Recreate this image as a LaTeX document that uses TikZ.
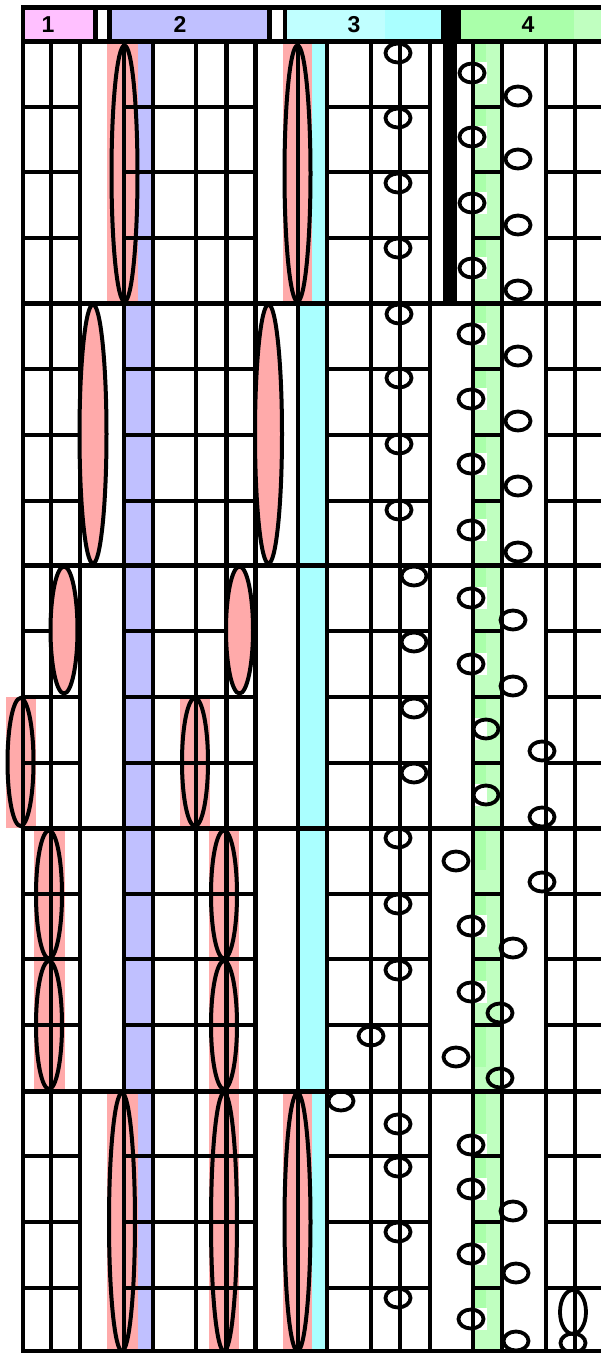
\documentclass[tikz,border=0pt]{standalone}
\usepackage{fontspec}
\setsansfont{Liberation Sans}
\usepackage{tikz}
\definecolor{pinkhead}{HTML}{FFC0FF}
\definecolor{bluestrip}{HTML}{C0C0FF}
\definecolor{cyanlight}{HTML}{C0FFFF}
\definecolor{cyanstrip}{HTML}{AAFFFF}
\definecolor{greenlight}{HTML}{C0FFC0}
\definecolor{greenstrip}{HTML}{AAFFAA}
\definecolor{rose}{HTML}{FFAAAA}

\begin{document}
\begin{tikzpicture}[
        x=1pt, y=-1pt,
        bar/.style={line width=4.5pt},
        sub/.style={line width=3.5pt},
        sep/.style={line width=5pt},
        lens/.style={line width=4pt},
        blob/.style={line width=4pt, fill=rose},
        ring/.style={line width=3.8pt},
        head/.style={font=\sffamily\bfseries\fontsize{23}{23}\selectfont, inner sep=0pt}
    ]
        \useasboundingbox (0,0) rectangle (601,1353);

        % Cabecalho
        \fill (21,5) rectangle (601,44);
        \fill[pinkhead] (25,10) rectangle (93,39);
        \fill[white] (98,10) rectangle (107,39);
        \fill[bluestrip] (112,10) rectangle (267,39);
        \fill[white] (272,10) rectangle (283,39);
        \fill[cyanlight] (287,10) rectangle (385,39);
        \fill[cyanstrip] (385,10) rectangle (441,39);
        \fill[greenstrip] (461,10) rectangle (574,39);
        \fill[greenlight] (574,10) rectangle (601,39);
        \node[head] (h1) at (48,24.5) {1};
        \node[head] (h2) at (180,24.5) {2};
        \node[head] (h3) at (354,24.5) {3};
        \node[head] (h4) at (528,24.5) {4};

        % Faixas coloridas
        \fill[bluestrip] (126,44) rectangle (151,1353);
        \fill[cyanstrip] (300,44) rectangle (325,1353);
        \fill[greenlight] (475,44) rectangle (500,1353);
        \foreach \ya/\yb in {44/63, 107/127, 172/193, 238/258, 303/324, 369/389, 435/454, 501/520,
                565/588, 631/654, 697/719, 763/785, 828/870, 894/916, 959/982, 1025/1067,
                1091/1135, 1156/1179, 1222/1244, 1288/1309}
            \fill[greenstrip] (475,\ya) rectangle (486,\yb);
        \foreach \y in {73, 137, 203, 268, 334, 399, 464, 530, 598, 664, 729, 795, 926, 992, 1145, 1189, 1254, 1319}
            \fill[white] (475,\y-11) rectangle (487,\y+11);

        % Fundos rosa
        \foreach \xa/\xb/\ya/\yb in {107/138/44/303, 283/312/44/303, 6/36/697/828, 180/210/697/828,
                34/65/828/1091, 209/239/828/1091, 107/138/1091/1353, 209/239/1091/1353, 283/312/1091/1353}
            \fill[rose] (\xa,\ya) rectangle (\xb,\yb);

        % Grade
        \foreach \y in {107, 172, 238, 369, 435, 501, 631, 697, 763, 894, 959, 1025, 1156, 1222, 1288}
            \foreach \xa/\xb in {23/80, 124/255, 327/430, 473/502, 545/601}
                \draw[sub] (\xa,\y) -- (\xb,\y);
        \foreach \y in {303, 565, 828, 1091, 1351}
            \draw[sep] (21,\y) -- (601,\y);
        \foreach \x in {23, 51, 80, 124, 153, 196, 226.5, 255.5, 298, 327, 371, 400, 430, 473, 502, 546, 575}
            \draw[bar] (\x,42) -- (\x,1353);
        \fill (443,42) rectangle (457,303);

        % Elipses grandes
        \foreach \x/\y/\ry in {93/434/129.5, 268.5/434/129.5, 64/630/63.5, 239.5/630/63.5}
            \draw[blob] (\x,\y) ellipse [x radius=13.5pt, y radius=\ry pt];
        \foreach \x/\y/\ry in {124.5/173.5/128, 297.5/173.5/128, 20.5/762/64, 195/762/64,
                49/894.5/64, 49/1025/64, 224/894.5/64, 224/1025/64,
                122/1222/129, 224/1222/129, 297.5/1222/129}
            \draw[lens] (\x,\y) ellipse [x radius=13pt, y radius=\ry pt];

        % Aneis pequenos
        \foreach \x/\y in {398/53, 398/118, 398/183, 398/248, 472/73, 472/137, 472/203, 472/268,
                518/96, 518/159, 518/225, 518/290,
                399/314, 399/378, 399/444, 399/510, 471/334, 471/399, 471/464, 471/530,
                518/356, 518/421, 518/486, 518/552,
                414/576, 414/642, 414/708, 414/773, 471/598, 471/664, 486/729, 486/795,
                513/620, 513/686, 542/751, 542/817,
                398/838, 398/904, 398/970, 371/1036, 456/861, 471/926, 471/992, 456/1057,
                542/882, 513/948, 500/1013, 500/1078,
                341/1101, 398/1124, 398/1167, 398/1232, 398/1298, 471/1145, 471/1189, 471/1254, 471/1319,
                513/1211, 516/1273, 516/1341, 573/1343}
            \draw[ring] (\x,\y) ellipse [x radius=12.5pt, y radius=9.5pt];
        \draw[ring] (573,1312) ellipse [x radius=13pt, y radius=22pt];
    \end{tikzpicture}
\end{document}
